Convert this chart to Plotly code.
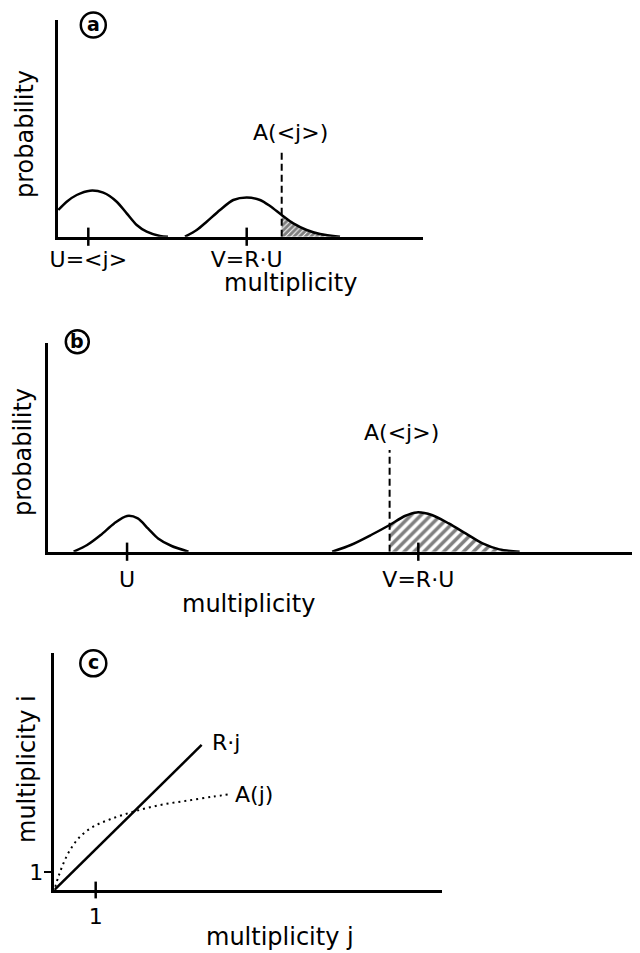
"""
Sketch of multiplicity distributions (panels a, b) and the A(j) vs R·j relation (panel c)
"""

import plotly.graph_objects as go

# page body has an 8px margin, so the figure is drawn 8px smaller
PAGE_W, PAGE_H = 640, 953
OFF = 8
W, H = PAGE_W - OFF, PAGE_H - OFF
FONT = dict(family="DejaVu Sans", size=22, color="black")
WORD_FONT = dict(family="DejaVu Sans", size=24, color="black")
LW = 2.5

# --- panel a: probability vs multiplicity ---
a_u_x = [0.03, 0.87, 1.87, 3.2, 4.53, 5.87, 6.87, 7.87, 8.87, 10.2, 11.0]
a_u_y = [2.67, 3.5, 4.17, 4.6, 4.4, 3.5, 2.33, 1.17, 0.5, 0.07, 0.0]
a_v_x = [12.7, 13.87, 14.87, 16.2, 17.53, 18.87, 20.2, 21.2, 22.37, 23.53, 24.87, 26.2, 28.2]
a_v_y = [0.0, 0.67, 1.5, 2.67, 3.67, 3.93, 3.67, 3.07, 2.17, 1.33, 0.67, 0.27, 0.0]
a_ticks = [3.03, 18.87]
a_ticktext = ["U=<j>", "V=R·U"]
a_cut = 22.37          # A(<j>)
a_cut_top = 8.5

# --- panel b ---
b_u_x = [2.5, 3.83, 5.17, 6.5, 7.77, 8.83, 9.83, 10.83, 12.17, 13.83]
b_u_y = [0.0, 0.67, 1.67, 2.83, 3.57, 3.33, 2.33, 1.33, 0.57, 0.0]
b_v_x = [28.0, 29.84, 31.84, 33.67, 35.17, 36.34, 37.84, 39.5, 41.17, 42.84, 44.5, 46.5]
b_v_y = [0.0, 0.67, 1.67, 2.67, 3.57, 3.93, 3.67, 2.83, 1.83, 0.83, 0.23, 0.0]
b_ticks = [7.77, 36.5]
b_ticktext = ["U", "V=R·U"]
b_cut = 33.67
b_cut_top = 10.17

# --- panel c: multiplicity i vs multiplicity j ---
c_rj_x = [0.0, 3.56]
c_rj_y = [0.0, 8.06]
c_aj_x = [0.02, 0.1, 0.22, 0.38, 0.62, 0.94, 1.35, 1.91, 2.55, 3.2, 3.84, 4.24]
c_aj_y = [0.18, 0.74, 1.48, 2.22, 2.96, 3.52, 3.93, 4.35, 4.72, 4.96, 5.19, 5.32]
c_xticks = [1]
c_yticks = [1]


def px_x(p):
    return (p - OFF) / W


def px_y(p):
    return 1 - (p - OFF) / H


fig = go.Figure()

curve = dict(color="black", width=LW, shape="spline", smoothing=0.8)
tickmark = dict(symbol="line-ns", size=13, line=dict(color="black", width=2.5))

# panel a
fig.add_trace(go.Scatter(x=a_u_x, y=a_u_y, mode="lines", line=curve, xaxis="x", yaxis="y"))
hx = [x for x in a_v_x if x >= a_cut]
hy = [y for x, y in zip(a_v_x, a_v_y) if x >= a_cut]
fig.add_trace(go.Scatter(x=hx, y=hy, mode="lines", line=dict(width=0, shape="spline"),
                         fill="tozeroy", fillcolor="black",
                         fillpattern=dict(shape="/", fgcolor="black", bgcolor="white", size=4, solidity=0.75),
                         xaxis="x", yaxis="y"))
fig.add_trace(go.Scatter(x=a_v_x, y=a_v_y, mode="lines", line=curve, xaxis="x", yaxis="y"))
fig.add_trace(go.Scatter(x=[a_cut, a_cut], y=[0, a_cut_top], mode="lines",
                         line=dict(color="black", width=2, dash="7px,4px"), xaxis="x", yaxis="y"))
fig.add_trace(go.Scatter(x=a_ticks, y=[0] * len(a_ticks), mode="markers", cliponaxis=False,
                         marker=tickmark, xaxis="x", yaxis="y"))

# panel b
fig.add_trace(go.Scatter(x=b_u_x, y=b_u_y, mode="lines", line=curve, xaxis="x2", yaxis="y2"))
hx = [x for x in b_v_x if x >= b_cut]
hy = [y for x, y in zip(b_v_x, b_v_y) if x >= b_cut]
fig.add_trace(go.Scatter(x=hx, y=hy, mode="lines", line=dict(width=0, shape="spline"),
                         fill="tozeroy", fillcolor="black",
                         fillpattern=dict(shape="/", fgcolor="black", bgcolor="white", size=7, solidity=0.5),
                         xaxis="x2", yaxis="y2"))
fig.add_trace(go.Scatter(x=b_v_x, y=b_v_y, mode="lines", line=curve, xaxis="x2", yaxis="y2"))
fig.add_trace(go.Scatter(x=[b_cut, b_cut], y=[0, b_cut_top], mode="lines",
                         line=dict(color="black", width=2, dash="7px,4px"), xaxis="x2", yaxis="y2"))
fig.add_trace(go.Scatter(x=b_ticks, y=[0] * len(b_ticks), mode="markers", cliponaxis=False,
                         marker=tickmark, xaxis="x2", yaxis="y2"))

# panel c
fig.add_trace(go.Scatter(x=c_rj_x, y=c_rj_y, mode="lines", line=dict(color="black", width=LW),
                         xaxis="x3", yaxis="y3"))
fig.add_trace(go.Scatter(x=c_aj_x, y=c_aj_y, mode="lines",
                         line=dict(color="black", width=2, dash="2px,4px", shape="spline"),
                         xaxis="x3", yaxis="y3"))
fig.add_trace(go.Scatter(x=c_xticks, y=[0] * len(c_xticks), mode="markers", cliponaxis=False,
                         marker=dict(tickmark, size=12), xaxis="x3", yaxis="y3"))

axis = dict(showline=True, linecolor="black", linewidth=LW, showgrid=False, zeroline=False,
            tickfont=FONT, fixedrange=True, automargin=False)
noticks = dict(showticklabels=False, ticks="")

fig.update_layout(
    width=W, height=H,
    margin=dict(l=0, r=0, t=0, b=0, autoexpand=False),
    paper_bgcolor="white", plot_bgcolor="white",
    showlegend=False,
    font=FONT,
    xaxis=dict(axis, domain=[px_x(58), px_x(423)], range=[0, 36.5], anchor="y",
               tickvals=a_ticks, ticktext=a_ticktext, ticks="", ticklabelstandoff=1),
    yaxis=dict(axis, **noticks, domain=[px_y(236.7), px_y(20)], range=[0, 21.67], anchor="x"),
    xaxis2=dict(axis, domain=[px_x(48.3), 1.0], range=[0, 59.17 - 0.8], anchor="y2",
                tickvals=b_ticks, ticktext=b_ticktext, ticks="", ticklabelstandoff=6),
    yaxis2=dict(axis, **noticks, domain=[px_y(551.7), px_y(343.3)], range=[0, 20.84], anchor="x2"),
    xaxis3=dict(axis, domain=[px_x(54.3), px_x(441.7)], range=[0, 9.36], anchor="y3",
                tickvals=c_xticks, ticktext=["1"], ticks="", ticklabelstandoff=5),
    yaxis3=dict(axis, domain=[px_y(890), px_y(653)], range=[0, 13.17], anchor="x3",
                tickvals=c_yticks, ticktext=["1"], ticks="outside", ticklen=8, tickwidth=2,
                tickcolor="black", ticklabelstandoff=-4),
)

ann = [
    dict(text="probability", x=px_x(25), y=px_y(134), textangle=-90, font=WORD_FONT),
    dict(text="multiplicity", x=px_x(290), y=px_y(283), font=WORD_FONT),
    dict(text="A(<j>)", x=23.2, y=10.4, xref="x", yref="y"),
    dict(text="probability", x=px_x(23), y=px_y(452), textangle=-90, font=WORD_FONT),
    dict(text="multiplicity", x=px_x(248), y=px_y(604), font=WORD_FONT),
    dict(text="A(<j>)", x=34.84, y=11.97, xref="x2", yref="y2"),
    dict(text="multiplicity i", x=px_x(27), y=px_y(769), textangle=-90, font=WORD_FONT),
    dict(text="multiplicity j", x=px_x(280), y=px_y(937), font=WORD_FONT),
    dict(text="R·j", x=3.76, y=8.22, xref="x3", yref="y3", xanchor="left"),
    dict(text="A(j)", x=4.32, y=5.28, xref="x3", yref="y3", xanchor="left"),
]
for a in ann:
    a.setdefault("xref", "paper")
    a.setdefault("yref", "paper")
    a.setdefault("xanchor", "center")
    a.setdefault("yanchor", "middle")
    a.setdefault("font", FONT)
    fig.add_annotation(showarrow=False, **a)

# circled panel letters
for letter, cx, cy, r in [("a", 93.3, 25, 12.5), ("b", 77.3, 341.7, 11.5), ("c", 93.3, 663.3, 13)]:
    fig.add_shape(type="circle", xref="paper", yref="paper",
                  x0=px_x(cx - r), x1=px_x(cx + r), y0=px_y(cy + r), y1=px_y(cy - r),
                  line=dict(color="black", width=2.5))
    fig.add_annotation(text="<b>" + letter + "</b>", x=px_x(cx), y=px_y(cy - 1),
                       xref="paper", yref="paper", xanchor="center", yanchor="middle",
                       showarrow=False, font=dict(family="DejaVu Sans", size=19, color="black"))

fig.write_html("out.html")
